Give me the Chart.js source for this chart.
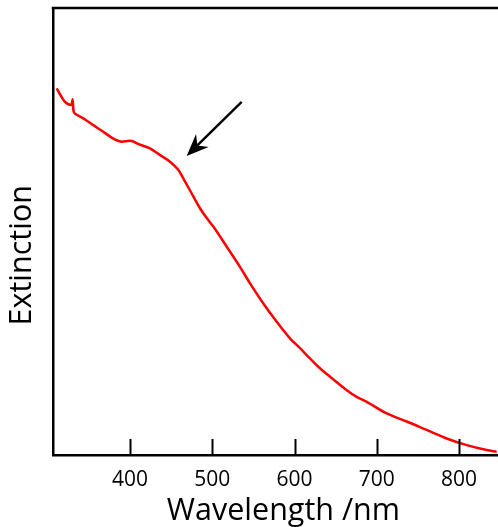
<!DOCTYPE html>
<html>
<head>
<meta charset="utf-8">
<script src="https://cdn.jsdelivr.net/npm/chart.js@4.4.1/dist/chart.umd.min.js"></script>
<style>
  html, body { margin: 0; padding: 0; background: #fff; }
  #wrap { width: 498px; height: 527px; }
</style>
</head>
<body>
<div id="wrap"><canvas id="extChart" width="498" height="527"></canvas></div>
<script>
// spectrum (arbitrary extinction units, 0..1 of the axis height)
const wavelengths = [310.9, 321, 329.1, 330.3, 331.3, 333.1, 343.2, 355.4, 367.5, 379.7, 389.9, 400, 412.2, 424.3, 436.5, 448.6, 458.7, 464.8, 475.0, 485.1, 493.3, 501.3, 517.6, 533.7, 545.9, 562.1, 578.4, 594.5, 606.7, 618.8, 631.0, 643.2, 663.5, 675.6, 687.8, 712.1, 736.4, 760.7, 785.0, 809.4, 833.7, 845.8];
const extinction = [0.820, 0.790, 0.783, 0.796, 0.770, 0.764, 0.753, 0.738, 0.723, 0.708, 0.701, 0.703, 0.694, 0.686, 0.671, 0.656, 0.638, 0.619, 0.585, 0.552, 0.530, 0.511, 0.466, 0.421, 0.384, 0.339, 0.298, 0.261, 0.239, 0.216, 0.194, 0.175, 0.145, 0.130, 0.119, 0.093, 0.075, 0.056, 0.037, 0.022, 0.011, 0.007];
const xTicks = [400, 500, 600, 700, 800];
// arrow pointing at the shoulder: [tail, tip] in data units
const arrowFrom = { x: 535.8, y: 0.790 };
const arrowTo = { x: 468.9, y: 0.669 };

const FONT = "'Open Sans', 'DejaVu Sans', sans-serif";

const framePlugin = {
    id: 'frame',
    afterDraw(chart) {
        const { ctx, chartArea: a, scales: { x, y } } = chart;
        ctx.save();
        ctx.strokeStyle = '#000';

        // top border
        ctx.lineWidth = 2.5;
        ctx.beginPath();
        ctx.moveTo(a.left - 1.25, a.top);
        ctx.lineTo(a.right, a.top);
        ctx.stroke();

        // inward tick marks
        ctx.lineWidth = 2;
        xTicks.forEach(v => {
            const px = Math.round(x.getPixelForValue(v)) + 0.5;
            ctx.beginPath();
            ctx.moveTo(px, a.bottom);
            ctx.lineTo(px, a.bottom - 16);
            ctx.stroke();
        });

        // arrow
        const x0 = x.getPixelForValue(arrowFrom.x), y0 = y.getPixelForValue(arrowFrom.y);
        const x1 = x.getPixelForValue(arrowTo.x), y1 = y.getPixelForValue(arrowTo.y);
        const ang = Math.atan2(y1 - y0, x1 - x0);
        const ux = Math.cos(ang), uy = Math.sin(ang);
        const nx = -uy, ny = ux;
        const len = 22, half = 9, notch = 15;
        ctx.lineWidth = 2.4;
        ctx.beginPath();
        ctx.moveTo(x0, y0);
        ctx.lineTo(x1 - ux * notch, y1 - uy * notch);
        ctx.stroke();
        ctx.fillStyle = '#000';
        ctx.beginPath();
        ctx.moveTo(x1, y1);
        ctx.lineTo(x1 - ux * len + nx * half, y1 - uy * len + ny * half);
        ctx.lineTo(x1 - ux * notch, y1 - uy * notch);
        ctx.lineTo(x1 - ux * len - nx * half, y1 - uy * len - ny * half);
        ctx.closePath();
        ctx.fill();
        ctx.restore();
    }
};

new Chart(document.getElementById('extChart'), {
    type: 'line',
    data: {
        datasets: [{
            data: wavelengths.map((w, i) => ({ x: w, y: extinction[i] })),
            borderColor: '#ff0000',
            borderWidth: 2.5,
            pointRadius: 0,
            fill: false,
            cubicInterpolationMode: 'monotone'
        }]
    },
    options: {
        responsive: false,
        animation: false,
        events: [],
        layout: { padding: { top: 8 } },
        plugins: {
            legend: { display: false },
            tooltip: { enabled: false }
        },
        scales: {
            x: {
                type: 'linear',
                min: 306.4,
                max: 847.4,
                grid: { display: false, drawTicks: false },
                border: { display: true, color: '#000', width: 2.5 },
                ticks: {
                    includeBounds: false,
                    stepSize: 100,
                    padding: 12.5,
                    color: '#000',
                    maxRotation: 0,
                    font: { family: FONT, size: 21, lineHeight: 1.2 }
                },
                title: {
                    display: true,
                    text: '  Wavelength /nm',
                    color: '#000',
                    padding: { top: -8.95, bottom: 0.25 },
                    font: { family: FONT, size: 30.5, lineHeight: 1 }
                }
            },
            y: {
                min: 0,
                max: 1,
                grid: { display: false, drawTicks: false },
                border: { display: true, color: '#000', width: 2.5 },
                ticks: { display: false },
                title: {
                    display: true,
                    text: 'Extinction      ',
                    color: '#000',
                    padding: { top: 6.75, bottom: 15.75 },
                    font: { family: FONT, size: 30.5, lineHeight: 1 }
                }
            }
        }
    },
    plugins: [framePlugin]
});
</script>
</body>
</html>
